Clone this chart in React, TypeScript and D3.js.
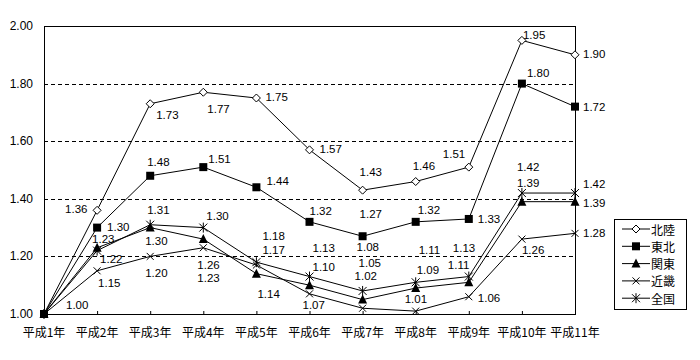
import React from "react";
import * as d3 from "d3";

const categories = ["平成1年", "平成2年", "平成3年", "平成4年", "平成5年", "平成6年", "平成7年", "平成8年", "平成9年", "平成10年", "平成11年"];
const seriesNames = ["北陸", "東北", "関東", "近畿", "全国"];
const hokuriku = [1.0, 1.36, 1.73, 1.77, 1.75, 1.57, 1.43, 1.46, 1.51, 1.95, 1.9];
const tohoku = [1.0, 1.3, 1.48, 1.51, 1.44, 1.32, 1.27, 1.32, 1.33, 1.8, 1.72];
const kanto = [1.0, 1.23, 1.3, 1.26, 1.14, 1.1, 1.05, 1.09, 1.11, 1.39, 1.39];
const kinki = [1.0, 1.15, 1.2, 1.23, 1.17, 1.07, 1.02, 1.01, 1.06, 1.26, 1.28];
const zenkoku = [1.0, 1.22, 1.31, 1.3, 1.18, 1.13, 1.08, 1.11, 1.13, 1.42, 1.42];
const yTicks = [1.0, 1.2, 1.4, 1.6, 1.8, 2.0];

// label placement offsets relative to each point (layout only)
type Off = [number, number] | null;
const labelOffsets: Off[][] = [
  [[22, -9], [-32, -1], [6, 11], [4, 17], [9, -1], [10, -1], [-3, -18], [-3, -16], [-26, -13], [1, -5], [8, -1]],
  [null, [10, -1], [-3, -14], [5, -8], [10, -6], [0, -11], [-3, -22], [2, -12], [9, 0], [5, -11], [8, 0]],
  [null, [-5, -9], [-5, 13], [-6, 26], [1, 20], [3, -18], [-4, -37], [1, -18], [-21, -17], [-5, -19], [8, 1]],
  [null, [1, 12], [-5, 17], [-6, 30], [6, -15], [-7, 11], [-8, -32], [-11, -12], [9, 1], [0, 11], [8, 0]],
  [null, [3, 8], [-3, -15], [3, -12], [6, -26], [3, -29], [-6, -44], [3, -32], [-16, -29], [-5, -26], [8, -9]],
];

const allSeries = [hokuriku, tohoku, kanto, kinki, zenkoku];
const FONT = "'Noto Sans CJK JP', sans-serif";
const NUMFONT = "'Liberation Sans', 'Noto Sans CJK JP', sans-serif";

function Marker({ kind, x, y }: { kind: number; x: number; y: number }) {
  if (kind === 0) {
    const r = 4;
    return <path d={`M${x},${y - r}L${x + r},${y}L${x},${y + r}L${x - r},${y}Z`} fill="#fff" stroke="#000" strokeWidth={1} />;
  }
  if (kind === 1) {
    return <rect x={x - 4} y={y - 4} width={8} height={8} fill="#000" />;
  }
  if (kind === 2) {
    return <path d={`M${x},${y - 5}L${x + 4.5},${y + 4}L${x - 4.5},${y + 4}Z`} fill="#000" />;
  }
  if (kind === 3) {
    const r = 3.5;
    return <path d={`M${x - r},${y - r}L${x + r},${y + r}M${x - r},${y + r}L${x + r},${y - r}`} stroke="#000" strokeWidth={1} />;
  }
  const r = 4;
  return <path d={`M${x - r},${y - r}L${x + r},${y + r}M${x - r},${y + r}L${x + r},${y - r}M${x},${y - r - 1}L${x},${y + r + 1}`} stroke="#000" strokeWidth={1} />;
}

export default function App() {
  const left = 44, right = 575, top = 26, bottom = 314;
  const x = d3.scalePoint<string>().domain(categories).range([left, right]).padding(0);
  const y = d3.scaleLinear().domain([1.0, 2.0]).range([bottom, top]);
  const line = d3.line<number>().x((_, i) => x(categories[i])!).y((d) => y(d));

  const legendX = 614, legendY = 219, legendW = 72, legendH = 90;
  const legendStep = 17.3;

  return (
    <svg width={700} height={360} style={{ position: "absolute", left: 0, top: 0, background: "#fff" }} fontFamily={FONT} fontSize={12}>
      <rect x={0} y={0} width={700} height={360} fill="#fff" />
      {yTicks.filter((t) => t > 1.0 && t < 2.0).map((t) => (
        <line key={t} x1={left} x2={right} y1={Math.round(y(t)) + 0.5} y2={Math.round(y(t)) + 0.5} stroke="#000" strokeDasharray="4,3" strokeWidth={1} />
      ))}
      <rect x={left + 0.5} y={top + 0.5} width={right - left} height={bottom - top} fill="none" stroke="#000" strokeWidth={1} />
      {categories.map((c) => (
        <line key={c} x1={x(c)! + 0.5} x2={x(c)! + 0.5} y1={bottom} y2={bottom - 3} stroke="#000" />
      ))}
      {yTicks.map((t) => (
        <text key={t} x={33} y={y(t)} textAnchor="end" dominantBaseline="central" fill="#000" fontFamily={NUMFONT} fontSize={12}>{t.toFixed(2)}</text>
      ))}
      {categories.map((c) => (
        <text key={c} x={x(c)!} y={331} textAnchor="middle" dominantBaseline="central" fill="#000">{c}</text>
      ))}
      {allSeries.map((s, si) => (
        <path key={si} d={line(s)!} fill="none" stroke="#000" strokeWidth={1} />
      ))}
      {allSeries.map((s, si) =>
        s.map((v, i) => <Marker key={`${si}-${i}`} kind={si} x={x(categories[i])!} y={y(v)} />)
      )}
      {allSeries.map((s, si) =>
        s.map((v, i) => {
          const off = labelOffsets[si][i];
          if (!off) return null;
          return (
            <text key={`l${si}-${i}`} x={x(categories[i])! + off[0]} y={y(v) + off[1]} dominantBaseline="central" fill="#000" fontFamily={NUMFONT} fontSize={11.5}>
              {v.toFixed(2)}
            </text>
          );
        })
      )}
      <rect x={legendX + 0.5} y={legendY + 0.5} width={legendW} height={legendH} fill="#fff" stroke="#000" />
      {seriesNames.map((n, i) => {
        const ly = legendY + 10 + i * legendStep;
        return (
          <g key={n}>
            <line x1={legendX + 8} x2={legendX + 36} y1={ly} y2={ly} stroke="#000" />
            <Marker kind={i} x={legendX + 22} y={ly} />
            <text x={legendX + 37} y={ly} dominantBaseline="central" fill="#000">{n}</text>
          </g>
        );
      })}
    </svg>
  );
}
